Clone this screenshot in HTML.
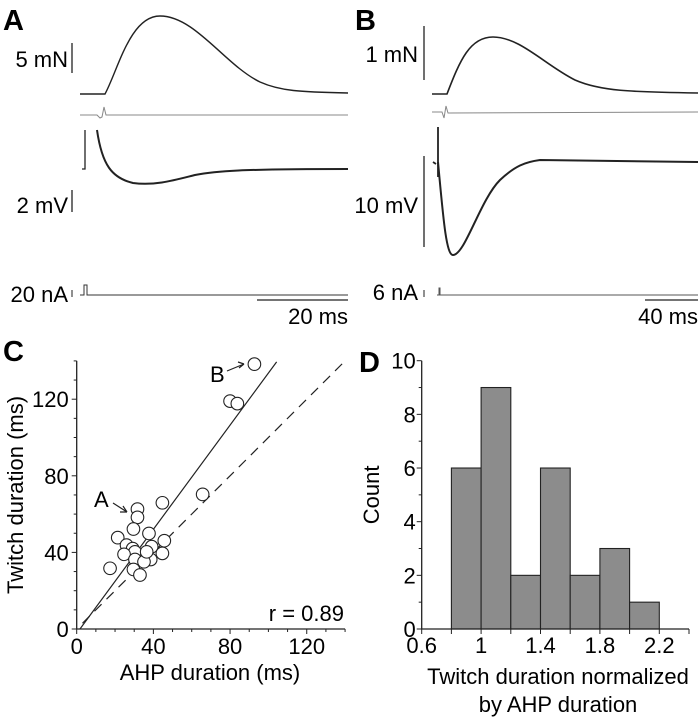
<!DOCTYPE html>
<html><head><meta charset="utf-8"><style>
body{margin:0;background:#fff;}
svg{display:block;font-family:"Liberation Sans",Arial,sans-serif;}
</style></head><body>
<svg id="fig" width="700" height="719" viewBox="0 0 700 719">
<g>
<text x="3" y="30" font-size="29" font-weight="bold">A</text>
<text x="68" y="67" font-size="22" text-anchor="end">5 mN</text>
<line x1="72" y1="43" x2="72" y2="73" stroke="#222" stroke-width="1.3"/>
<path d="M80,94 L105,94 C118,70 130,16 160,16 C195,16 225,65 260,82 C280,91 300,92 348,93" fill="none" stroke="#222" stroke-width="1.4"/>
<path d="M80,115 L97,115 L100,118 L102,117 L104,107 L106,115 L348,115" fill="none" stroke="#888" stroke-width="1"/>
<path d="M82,169 L85,169 L85,130" fill="none" stroke="#222" stroke-width="1.3"/>
<path d="M97,130 C102,165 112,178 133,183 C155,186 175,180 195,175 C215,171 240,169 348,169" fill="none" stroke="#222" stroke-width="2"/>
<text x="68" y="213" font-size="22" text-anchor="end">2 mV</text>
<line x1="72" y1="190" x2="72" y2="212" stroke="#222" stroke-width="1.3"/>
<text x="68" y="302" font-size="22" text-anchor="end">20 nA</text>
<line x1="72" y1="290" x2="72" y2="297" stroke="#222" stroke-width="1"/>
<path d="M80,295 L84,295 L84,285 L87,285 L87,295 L348,295" fill="none" stroke="#333" stroke-width="1"/>
<line x1="257" y1="300" x2="348" y2="300" stroke="#222" stroke-width="1.3"/>
<text x="348" y="324" font-size="22" text-anchor="end">20 ms</text>
</g>
<g>
<text x="355" y="30" font-size="29" font-weight="bold">B</text>
<text x="418" y="62" font-size="22" text-anchor="end">1 mN</text>
<line x1="424" y1="26" x2="424" y2="80" stroke="#222" stroke-width="1.3"/>
<path d="M432,94 L447,94 C460,60 470,37 493,37 C520,37 545,65 575,80 C600,91 630,92 698,93" fill="none" stroke="#222" stroke-width="1.6"/>
<path d="M432,112 L442,112 L444,118 L446,106 L448,113 L698,112" fill="none" stroke="#888" stroke-width="1"/>
<path d="M433,162 L436,164 M438,127 L438,177" fill="none" stroke="#222" stroke-width="1.8"/>
<path d="M438,162 C443,215 446,255 453,255 C465,255 480,200 500,180 C515,166 525,162 540,160 L698,162" fill="none" stroke="#222" stroke-width="2"/>
<text x="418" y="213" font-size="22" text-anchor="end">10 mV</text>
<line x1="424" y1="156" x2="424" y2="247" stroke="#222" stroke-width="1.3"/>
<text x="418" y="300" font-size="22" text-anchor="end">6 nA</text>
<line x1="424" y1="290" x2="424" y2="297" stroke="#222" stroke-width="1"/>
<path d="M437,295 L439,295 L439,288 L440,288 L440,295 L698,295" fill="none" stroke="#555" stroke-width="1"/>
<line x1="645" y1="300" x2="698" y2="300" stroke="#222" stroke-width="1.3"/>
<text x="698" y="324" font-size="22" text-anchor="end">40 ms</text>
</g>
<g id="pc"></g>
<g id="pd"></g>
</svg>
<script>
// Panel C data
const ahpValues = [92.7,80,83.8,65.7,44.7,31.7,31.7,29.6,37.7,21.4,45.7,26,39.1,29.2,30.4,24.7,44.7,38.6,30.4,35.1,17.4,29.6,33,36.5];
const twitchValues = [138.3,119,117.7,70.3,65.9,62.6,58.3,52.2,49.9,47.7,46.1,43.8,43,42,40.3,39,39.5,36.3,36.3,35.1,31.7,31.1,28.2,40.3];
const cTicks = [0,40,80,120];
const fitLine = [[1.7,0],[104.3,139.5]];
const identityLine = [[3,3],[140,140]];
// Panel D data
const binStarts = [0.8,1.0,1.2,1.4,1.6,1.8,2.0];
const binCounts = [6,9,2,6,2,3,1];
const dXTicks = [0.6,1,1.4,1.8,2.2];
const dYTicks = [0,2,4,6,8,10];

const NS='http://www.w3.org/2000/svg';
function mk(parent,tag,attrs,text){const e=document.createElementNS(NS,tag);for(const k in attrs)e.setAttribute(k,attrs[k]);if(text!==undefined)e.textContent=text;parent.appendChild(e);return e;}

// ----- Panel C -----
const pc=document.getElementById('pc');
const cx=v=>76.7+v*1.917, cy=v=>629-v*1.915;
let t=mk(pc,'text',{x:3,y:361,'font-size':29,'font-weight':'bold'},'C');


let ax=mk(pc,'path',{d:`M${cx(0)},${cy(140)} L${cx(0)},${cy(0)} L${cx(140)},${cy(0)}`,fill:'none',stroke:'#222','stroke-width':1.3});


for(let v=0;v<=140;v+=10){
  const L=(v%40===0)?5:3;
  let a=mk(pc,'line',{x1:cx(0)-L,x2:cx(0),y1:cy(v),y2:cy(v),stroke:'#222','stroke-width':1});
  
  
  let b=mk(pc,'line',{x1:cx(v),x2:cx(v),y1:cy(0),y2:cy(0)+L,stroke:'#222','stroke-width':1});
  
  
}
cTicks.forEach(v=>{
  let a=mk(pc,'text',{x:cx(0)-8,y:cy(v)+8,'font-size':22,'text-anchor':'end'},v);
  
  
  let b=mk(pc,'text',{x:cx(v),y:cy(0)+25,'font-size':22,'text-anchor':'middle'},v);
  
  
});
t=mk(pc,'text',{x:0,y:0,'font-size':22,'text-anchor':'middle',transform:`translate(23,${cy(70)}) rotate(-90)`},'Twitch duration (ms)');


t=mk(pc,'text',{x:210,y:680,'font-size':22,'text-anchor':'middle'},'AHP duration (ms)');


let fl=mk(pc,'line',{x1:cx(fitLine[0][0]),y1:cy(fitLine[0][1]),x2:cx(fitLine[1][0]),y2:cy(fitLine[1][1]),stroke:'#222','stroke-width':1.2});


let il=mk(pc,'line',{x1:cx(identityLine[0][0]),y1:cy(identityLine[0][1]),x2:cx(identityLine[1][0]),y2:cy(identityLine[1][1]),stroke:'#222','stroke-width':1.2,'stroke-dasharray':'10,7'});


ahpValues.forEach((v,i)=>{
  let c=mk(pc,'circle',{cx:cx(v),cy:cy(twitchValues[i]),r:6.3,fill:'#fff',stroke:'#222','stroke-width':1.1});
  
  
});
t=mk(pc,'text',{x:344,y:621,'font-size':22,'text-anchor':'end'},'r = 0.89');


t=mk(pc,'text',{x:94,y:507,'font-size':22},'A');


let ar=mk(pc,'path',{d:'M113,503 L127,512 M127,512 L120,512 M127,512 L123,506',fill:'none',stroke:'#222','stroke-width':1.2});


t=mk(pc,'text',{x:210,y:382,'font-size':22},'B');


ar=mk(pc,'path',{d:'M227,371 L244,364 M244,364 L238,362 M244,364 L239,368',fill:'none',stroke:'#222','stroke-width':1.2});



// ----- Panel D -----
const pd=document.getElementById('pd');
const dx=v=>421.7+(v-0.6)*148.5, dy=v=>629-v*26.83;
t=mk(pd,'text',{x:359,y:372,'font-size':29,'font-weight':'bold'},'D');


binStarts.forEach((s,i)=>{
  let r=mk(pd,'rect',{x:dx(s),y:dy(binCounts[i]),width:dx(s+0.2)-dx(s),height:dy(0)-dy(binCounts[i]),fill:'#8c8c8c',stroke:'#222','stroke-width':1.1});
  
  
});
ax=mk(pd,'path',{d:`M${dx(0.6)},${dy(10)} L${dx(0.6)},${dy(0)} L${dx(2.4)},${dy(0)}`,fill:'none',stroke:'#222','stroke-width':1.3});


for(let v=0;v<=10;v++){
  let a=mk(pd,'line',{x1:dx(0.6)-(v%2===0?5:3),x2:dx(0.6),y1:dy(v),y2:dy(v),stroke:'#222','stroke-width':1});
  
  
}
for(let k=0;k<=9;k++){
  const v=0.6+k*0.2;
  let a=mk(pd,'line',{x1:dx(v),x2:dx(v),y1:dy(0),y2:dy(0)+5,stroke:'#222','stroke-width':1});
  
  
}
dYTicks.forEach(v=>{
  let a=mk(pd,'text',{x:dx(0.6)-6,y:dy(v)+8,'font-size':22,'text-anchor':'end'},v);
  
  
});
dXTicks.forEach(v=>{
  let a=mk(pd,'text',{x:dx(v),y:653,'font-size':22,'text-anchor':'middle'},v);
  
  
});
t=mk(pd,'text',{x:0,y:0,'font-size':22,'text-anchor':'middle',transform:`translate(379,${dy(5)}) rotate(-90)`},'Count');


t=mk(pd,'text',{x:558,y:684,'font-size':22,'text-anchor':'middle'},'Twitch duration normalized');


t=mk(pd,'text',{x:558,y:712,'font-size':22,'text-anchor':'middle'},'by AHP duration');


</script>
</body></html>
